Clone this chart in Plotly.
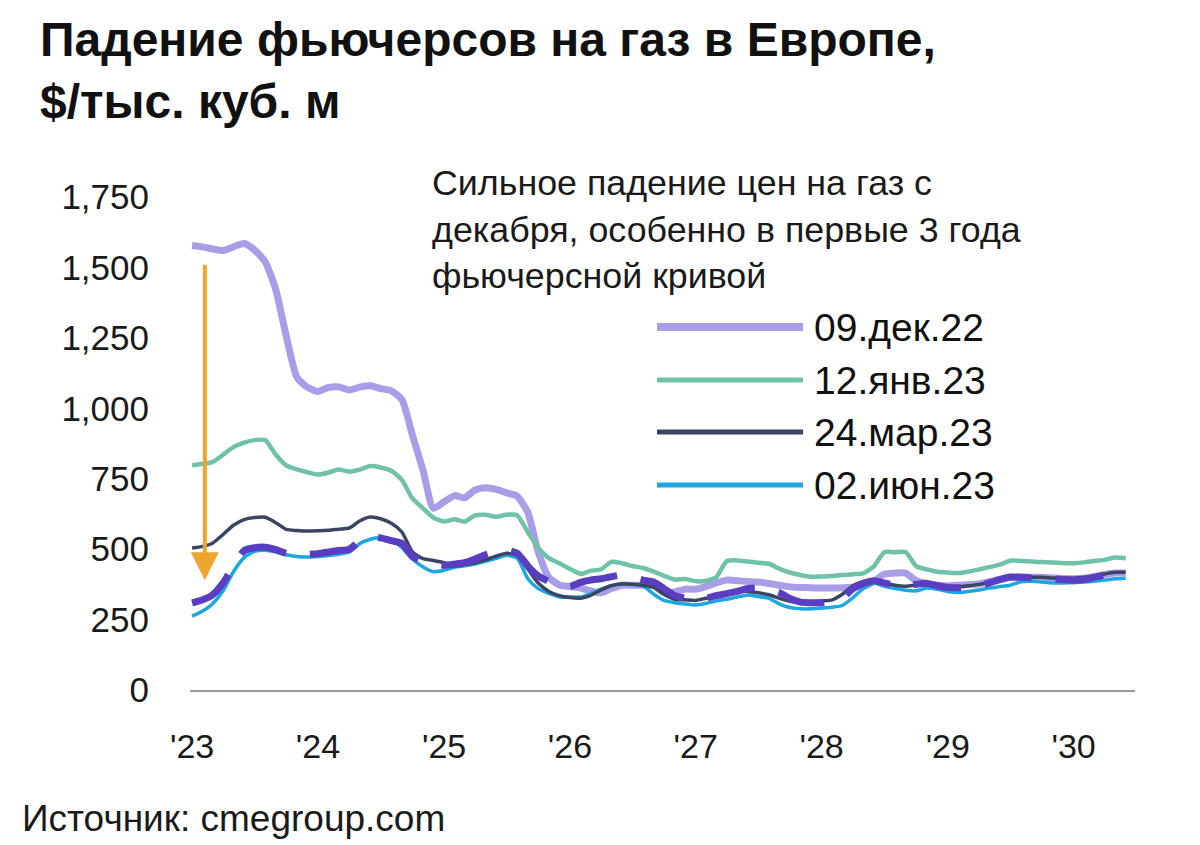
import pandas as pd
import plotly.graph_objects as go

months = pd.date_range("2023-01-01", periods=90, freq="MS")

dec09 = [1578, 1573, 1566, 1560, 1573, 1585, 1562, 1520, 1420, 1257, 1110, 1075,
         1060, 1074, 1076, 1065, 1075, 1080, 1070, 1062, 1030, 905, 780, 645,
         668, 690, 682, 710, 718, 712, 700, 688, 630, 490, 400, 373,
         367, 362, 352, 345, 360, 372, 372, 372, 370, 345, 348, 358,
         358, 368, 380, 390, 388, 385, 383, 378, 372, 366, 364, 363,
         362, 362, 363, 365, 368, 385, 412, 415, 415, 388, 378, 372,
         370, 372, 374, 376, 385, 393, 400, 401, 400, 400, 398, 396,
         395, 397, 402, 410, 415, 415]
jan12 = [798, 803, 809, 835, 862, 878, 887, 887, 835, 797, 783, 773,
         765, 772, 783, 775, 782, 795, 790, 778, 745, 680, 645, 612,
         598, 606, 597, 620, 622, 615, 622, 620, 560, 505, 468, 450,
         430, 412, 423, 428, 455, 450, 440, 433, 420, 405, 392, 394,
         386, 388, 400, 458, 460, 456, 452, 448, 430, 417, 408, 402,
         403, 405, 408, 411, 414, 440, 489, 489, 489, 440, 428, 420,
         417, 415, 420, 428, 436, 445, 459, 458, 456, 454, 453, 451,
         450, 453, 458, 462, 470, 468]
mar24 = [504, 510, 521, 552, 585, 605, 612, 613, 594, 570, 566, 564,
         565, 567, 571, 575, 600, 614, 608, 592, 560, 490, 466, 460,
         452, 440, 445, 452, 462, 475, 485, 478, 430, 380, 350, 335,
         328, 326, 335, 355, 370, 376, 375, 372, 365, 340, 322, 320,
         318, 326, 332, 340, 352, 350, 345, 338, 325, 315, 310, 312,
         316, 320, 340, 370, 385, 392, 380, 372, 368, 372, 375, 370,
         365, 366, 370, 375, 382, 390, 398, 400, 400, 400, 398, 397,
         397, 400, 405, 412, 418, 418]
jun02 = [262, 280, 305, 352, 420, 470, 492, 496, 490, 480, 474, 472,
         474, 477, 482, 489, 519, 535, 540, 533, 505, 465, 437, 420,
         425, 436, 441, 447, 457, 467, 478, 468, 395, 360, 343, 330,
         330, 330, 342, 358, 370, 378, 374, 370, 340, 318, 310, 305,
         302, 308, 316, 322, 330, 337, 332, 325, 305, 293, 288, 288,
         291, 294, 300, 328, 360, 380, 368, 360, 354, 352, 362, 358,
         350, 346, 350, 355, 362, 367, 372, 384, 386, 383, 380, 380,
         381, 383, 386, 390, 395, 397]
latest = [309, 320, 337, 380, 440, 495, 505, 507, 498, 485, 480, 481,
          484, 490, 495, 500, 528, 543, 540, 530, 520, 475, 455, 447,
          443, 447, 452, 465, 480, 492, 496, 486, 440, 405, 385, 370,
          368, 382, 390, 395, 402, 408, 400, 390, 383, 360, 335, 326,
          326, 326, 335, 342, 350, 360, 362, 355, 345, 325, 312, 310,
          310, 318, 326, 360, 378, 388, 380, 372, 366, 375, 378, 370,
          364, 363, 366, 369, 380, 392, 401, 400, 398, 397, 395, 392,
          390, 392, 400, 408, 414, 415]

legend_labels = ["09.дек.22", "12.янв.23", "24.мар.23", "02.июн.23"]
y_ticks = [0, 250, 500, 750, 1000, 1250, 1500, 1750]
x_ticks = pd.date_range("2023-01-01", periods=8, freq="YS")
x_ticktext = ["'23", "'24", "'25", "'26", "'27", "'28", "'29", "'30"]

c_lav = "#A99DE8"
c_teal = "#6FC1AA"
c_navy = "#3B4563"
c_cyan = "#1EA6E0"
c_purp = "#5A3EC2"
c_orange = "#EEA52F"

# page body has an 8px margin; target screen coordinates of the plot area
OFF = 8
PL, PR, PT, PB = 190, 1135, 197, 690
W, H = PR - PL, PB - PT


def px(xs):
    return (xs - PL) / W


def py(ys):
    return (PB - ys) / H


fig = go.Figure()
series = [
    (dec09, c_lav, 7, "solid"),
    (jan12, c_teal, 4.5, "solid"),
    (jun02, c_cyan, 3.5, "solid"),
    (mar24, c_navy, 3.5, "solid"),
    (latest, c_purp, 7, "48px,24px"),
]
for vals, col, w, dash in series:
    fig.add_trace(go.Scatter(
        x=months, y=vals, mode="lines",
        line=dict(color=col, width=w, dash=dash, shape="spline", smoothing=0.6),
        showlegend=False, hoverinfo="skip"))

FONT = "Liberation Sans, Arial, sans-serif"

fig.update_layout(
    width=1200, height=845,
    margin=dict(l=PL - OFF, r=1200 - PR + OFF, t=PT - OFF, b=845 - PB + OFF),
    paper_bgcolor="white", plot_bgcolor="white",
    font=dict(family=FONT, color="#1a1a1a"),
    xaxis=dict(
        range=["2022-12-26", "2030-06-28"],
        tickvals=x_ticks, ticktext=x_ticktext,
        showgrid=False, zeroline=False,
        showline=True, linecolor="#9a9a9a", linewidth=2,
        ticks="", ticklabelstandoff=25,
        tickfont=dict(size=34, color="#1a1a1a", family=FONT),
    ),
    yaxis=dict(
        range=[0, 1750], tickvals=y_ticks, tickformat=",d",
        showgrid=False, zeroline=False, showline=False,
        ticks="", ticklabelstandoff=40,
        tickfont=dict(size=35, color="#1a1a1a", family=FONT),
    ),
)

annotations = [
    dict(text="<b>Падение фьючерсов на газ в Европе,<br>$/тыс. куб. м</b>",
         xref="paper", yref="paper", x=px(38), y=py(11),
         xanchor="left", yanchor="top", align="left", showarrow=False,
         font=dict(size=48, color="#111", family=FONT)),
    dict(text="Сильное падение цен на газ с<br>декабря, особенно в первые 3 года<br>фьючерсной кривой",
         xref="paper", yref="paper", x=px(430), y=py(161),
         xanchor="left", yanchor="top", align="left", showarrow=False,
         font=dict(size=35.8, color="#1a1a1a", family=FONT)),
    dict(text="Источник: cmegroup.com",
         xref="paper", yref="paper", x=px(20), y=py(818),
         xanchor="left", yanchor="middle", align="left", showarrow=False,
         font=dict(size=37, color="#1a1a1a", family=FONT)),
    dict(x="2023-02-07", y=390, ax="2023-02-07", ay=1515,
         xref="x", yref="y", axref="x", ayref="y", text="",
         showarrow=True, arrowhead=2, arrowsize=1.4, arrowwidth=4,
         arrowcolor=c_orange, standoff=0, startstandoff=0),
]

leg_cols = [c_lav, c_teal, c_navy, c_cyan]
leg_w = [8, 5, 5, 5]
leg_y = [327, 380, 432, 485]
shapes = []
for lab, col, w, ypx in zip(legend_labels, leg_cols, leg_w, leg_y):
    yp = py(ypx)
    shapes.append(dict(type="line", xref="paper", yref="paper",
                       x0=px(657), x1=px(803), y0=yp, y1=yp,
                       line=dict(color=col, width=w)))
    annotations.append(dict(text=lab, xref="paper", yref="paper",
                            x=px(812), y=yp, xanchor="left", yanchor="middle",
                            showarrow=False, font=dict(size=39, color="#111", family=FONT)))

fig.update_layout(annotations=annotations, shapes=shapes)
fig.write_html("out.html")
